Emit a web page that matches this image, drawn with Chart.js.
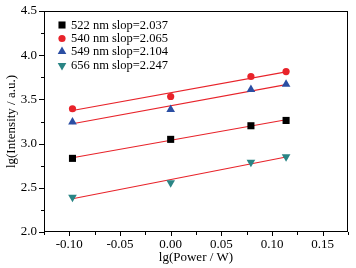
<!DOCTYPE html>
<html><head><meta charset="utf-8">
<script src="https://cdn.jsdelivr.net/npm/chart.js@4"></script>
<style>html,body{margin:0;padding:0;background:#fff}#w{width:356px;height:268px}</style>
</head><body><div id="w"><canvas id="c"></canvas></div>
<script>
const xPower = [-0.0969, 0.0, 0.0792, 0.1139];
const y522 = [2.833, 3.048, 3.202, 3.262];
const y540 = [3.394, 3.533, 3.759, 3.815];
const y549 = [3.245, 3.385, 3.612, 3.672];
const y656 = [2.392, 2.556, 2.790, 2.850];
const seriesLabels = ['522 nm slop=2.037','540 nm slop=2.065','549 nm slop=2.104','656 nm slop=2.247'];
const xTickLabels = ['-0.10','-0.05','0.00','0.05','0.10','0.15'];
const yTickLabels = ['2.0','2.5','3.0','3.5','4.0','4.5'];

const FONT = "'Liberation Serif','Times New Roman',serif";
const colors = ['#000000','#e8232a','#2b4ea3','#2a8585'];
const styles = ['rect','circle','triangle','triangle'];
const rots = [0,0,0,180];
const radii = [5,3.6,5,5];
const allY = [y522,y540,y549,y656];

function fit(xs, ys){
  const n=xs.length; let sx=0,sy=0,sxx=0,sxy=0;
  for(let i=0;i<n;i++){sx+=xs[i];sy+=ys[i];sxx+=xs[i]*xs[i];sxy+=xs[i]*ys[i];}
  const b=(n*sxy-sx*sy)/(n*sxx-sx*sx), a=(sy-b*sx)/n;
  const x0=xs[0], x1=xs[n-1];
  return [{x:x0,y:a+b*x0},{x:x1,y:a+b*x1}];
}

const datasets=[];
allY.forEach((ys,i)=>{
  datasets.push({type:'line',label:'fit'+i,data:fit(xPower,ys),borderColor:'#e8232a',borderWidth:1.1,pointRadius:0,fill:false,order:2});
});
allY.forEach((ys,i)=>{
  datasets.push({type:'scatter',label:seriesLabels[i],data:xPower.map((x,j)=>({x:x,y:ys[j]})),
    backgroundColor:colors[i],borderColor:colors[i],borderWidth:0,pointStyle:styles[i],pointRotation:rots[i],pointRadius:radii[i],order:1});
});

const legendPlug={id:'lg',afterDraw(chart){
  const ctx=chart.ctx; ctx.save();
  const ly=[25,38.5,51.5,65.5];
  seriesLabels.forEach((t,i)=>{
    ctx.fillStyle=colors[i]; ctx.strokeStyle=colors[i];
    Chart.helpers.drawPoint(ctx,{pointStyle:styles[i],rotation:rots[i],radius:radii[i],borderWidth:0},62,ly[i]);
    ctx.fillStyle='#000'; ctx.font="12.5px "+FONT; ctx.textBaseline='middle'; ctx.textAlign='left';
    ctx.fillText(t,71,ly[i]+0.5);
  });
  ctx.restore();
}};

const tickPlug={id:'ticks',afterDraw(chart){
  const ctx=chart.ctx, a=chart.chartArea, xs=chart.scales.x, ys=chart.scales.y;
  ctx.save(); ctx.strokeStyle='#000'; ctx.lineWidth=1;
  ctx.strokeRect(Math.round(a.left)+0.5,Math.round(a.top)+0.5,Math.round(a.right-a.left)-1,Math.round(a.bottom-a.top)-1);
  for(let k=0;k<=12;k++){
    const v=-0.125+k*0.025; const p=Math.round(xs.getPixelForValue(v))+0.5;
    const len=(k%2===1)?4:3;
    ctx.beginPath();ctx.moveTo(p,a.bottom);ctx.lineTo(p,a.bottom+len);ctx.stroke();
  }
  for(let k=0;k<=10;k++){
    const v=2.0+k*0.25; const p=Math.round(ys.getPixelForValue(v))+0.5;
    const len=(k%2===0)?5:3;
    ctx.beginPath();ctx.moveTo(a.left,p);ctx.lineTo(a.left-len,p);ctx.stroke();
  }
  ctx.restore();
}};

new Chart(document.getElementById('c'),{
  data:{datasets},
  options:{
    responsive:true,maintainAspectRatio:false,animation:false,
    layout:{padding:{left:0,top:11,right:8,bottom:0}},
    plugins:{legend:{display:false},tooltip:{enabled:false}},
    scales:{
      x:{type:'linear',min:-0.125,max:0.175,
        afterBuildTicks(s){s.ticks=xTickLabels.map(t=>({value:parseFloat(t)}));},
        afterFit(s){s.height=36;s.paddingLeft=0;s.paddingRight=0;},
        grid:{display:false,drawTicks:false},border:{display:false},
        ticks:{color:'#000',font:{family:FONT,size:13},padding:5,callback:(v,i)=>xTickLabels[i],maxRotation:0,autoSkip:false},
        title:{display:true,text:'lg(Power / W)',color:'#000',font:{family:FONT,size:13},padding:{top:0,bottom:3}}},
      y:{type:'linear',min:2.0,max:4.5,
        afterBuildTicks(s){s.ticks=yTickLabels.map(t=>({value:parseFloat(t)}));},
        afterFit(s){s.width=44;s.paddingTop=0;s.paddingBottom=0;},
        grid:{display:false,drawTicks:false},border:{display:false},
        ticks:{color:'#000',font:{family:FONT,size:13},padding:7,callback:(v,i)=>yTickLabels[i],autoSkip:false},
        title:{display:true,text:'lg(Intensity / a.u.)',color:'#000',font:{family:FONT,size:13},padding:{top:4,bottom:0}}}
    }
  },
  plugins:[tickPlug,legendPlug]
});
</script></body></html>
